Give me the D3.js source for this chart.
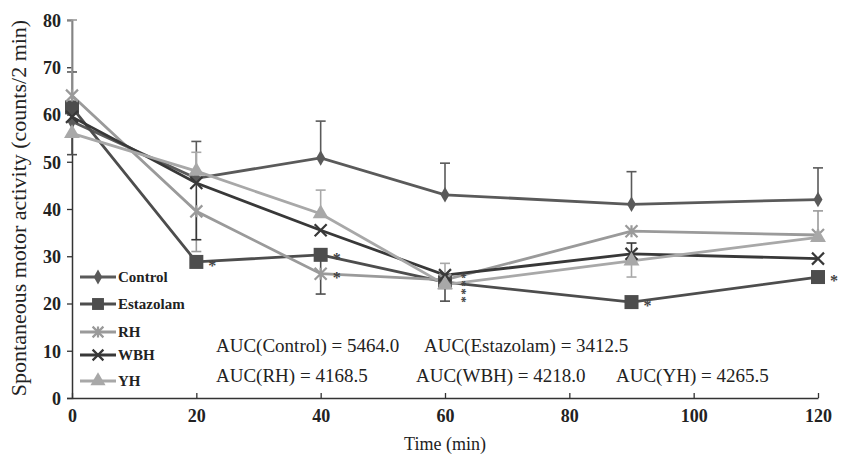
<!DOCTYPE html>
<html>
<head>
<meta charset="utf-8">
<script src="https://cdn.jsdelivr.net/npm/d3@7"></script>
<style>
  body { margin: 0; background: #fff; }
  svg { display: block; font-family: "Liberation Serif", "Times New Roman", serif; }
</style>
</head>
<body>
<svg id="chart" width="842" height="458"></svg>
<script>
// time points (min)
var times = [0, 20, 40, 60, 90, 120];

// mean activity per group
var control   = [58.5, 46.5, 50.8, 43.0, 41.0, 42.0];
var estazolam = [61.5, 28.8, 30.3, 24.5, 20.3, 25.6];
var rh        = [64.0, 39.5, 26.3, 25.0, 35.3, 34.5];
var wbh       = [59.5, 45.5, 35.5, 26.0, 30.5, 29.5];
var yh        = [56.0, 48.0, 39.0, 24.0, 29.0, 34.0];

// error bars (signed: + drawn upward, - drawn downward, 0 none)
var controlErr   = [10.5, 7.8, 7.8, 6.7, 6.9, 6.7];
var estazolamErr = [-10, 0, -8.3, -4, 0, 0];
var rhErr        = [16, -8.5, 0, 0, 0, 5.1];
var wbhErr       = [0, -12, 0, 0, 2.3, 0];
var yhErr        = [0, 4, 5, 4.5, -3.4, 0];

var seriesNames = ["Control", "Estazolam", "RH", "WBH", "YH"];

// significance marks: [series index, time index]
var sigMarks = [[1, 1], [1, 2], [2, 2], [1, 3], [2, 3], [3, 3], [4, 3], [1, 4], [1, 5]];

var aucLines = [
    ["AUC(Control) = 5464.0", "AUC(Estazolam) = 3412.5"],
    ["AUC(RH) = 4168.5", "AUC(WBH) = 4218.0", "AUC(YH) = 4265.5"]
];

var xTicks = [0, 20, 40, 60, 80, 100, 120];
var yTicks = [0, 10, 20, 30, 40, 50, 60, 70, 80];

var series = [
    {name: seriesNames[0], values: control,   err: controlErr,   color: "#5a5a5a", marker: "diamond"},
    {name: seriesNames[1], values: estazolam, err: estazolamErr, color: "#4d4d4d", marker: "square"},
    {name: seriesNames[2], values: rh,        err: rhErr,        color: "#9a9a9a", marker: "star"},
    {name: seriesNames[3], values: wbh,       err: wbhErr,       color: "#383838", marker: "cross"},
    {name: seriesNames[4], values: yh,        err: yhErr,        color: "#a8a8a8", marker: "triangle"}
];

var svg = d3.select("#chart");

var x = d3.scaleLinear().domain([0, 120]).range([72, 818]);
var y = d3.scaleLinear().domain([0, 80]).range([398, 20]);

// axes
var yAxis = svg.append("g")
    .attr("transform", "translate(72,0)")
    .call(d3.axisLeft(y).tickValues(yTicks).tickSize(5).tickPadding(6));
var xAxis = svg.append("g")
    .attr("transform", "translate(0,398)")
    .call(d3.axisBottom(x).tickValues(xTicks).tickSize(0).tickPadding(8));

[xAxis, yAxis].forEach(function (g) {
    g.select(".domain").attr("stroke", "#333").attr("stroke-width", 1.5);
    g.selectAll(".tick line").attr("stroke", "#333").attr("stroke-width", 1.3);
    g.selectAll("text")
        .attr("fill", "#222")
        .style("font-family", "'Liberation Serif', serif")
        .style("font-size", "18px")
        .style("font-weight", "bold");
});
// x ticks point up into plot
xAxis.selectAll(".tick").append("line")
    .attr("y1", 0).attr("y2", -5)
    .attr("stroke", "#333").attr("stroke-width", 1.3);
xAxis.selectAll(".tick text").attr("dy", "0.9em");
yAxis.selectAll(".tick text").attr("dy", "0.35em");

// axis titles
svg.append("text")
    .attr("transform", "translate(26,208) rotate(-90)")
    .attr("text-anchor", "middle")
    .attr("fill", "#222")
    .style("font-size", "22px")
    .text("Spontaneous motor activity (counts/2 min)");
svg.append("text")
    .attr("x", 445).attr("y", 450)
    .attr("text-anchor", "middle")
    .attr("fill", "#222")
    .style("font-size", "18px")
    .text("Time (min)");

// error bars
var errG = svg.append("g");
series.forEach(function (s) {
    s.err.forEach(function (e, i) {
        if (!e) return;
        var cx = x(times[i]), y0 = y(s.values[i]), y1 = y(s.values[i] + e);
        errG.append("line")
            .attr("x1", cx).attr("x2", cx).attr("y1", y0).attr("y2", y1)
            .attr("stroke", s.color).attr("stroke-width", 1.6);
        errG.append("line")
            .attr("x1", cx - 5).attr("x2", cx + 5).attr("y1", y1).attr("y2", y1)
            .attr("stroke", s.color).attr("stroke-width", 1.6);
    });
});

var line = d3.line()
    .x(function (d, i) { return x(times[i]); })
    .y(function (d) { return y(d); });

function drawMarker(g, type, cx, cy, color, size) {
    var k = size || 1;
    if (type === "diamond") {
        g.append("path").attr("d", d3.symbol(d3.symbolDiamond, 70 * k)())
            .attr("transform", "translate(" + cx + "," + cy + ")").attr("fill", color);
    } else if (type === "square") {
        g.append("rect").attr("x", cx - 7 * k).attr("y", cy - 7 * k)
            .attr("width", 14 * k).attr("height", 14 * k).attr("fill", color);
    } else if (type === "triangle") {
        g.append("path").attr("d", d3.symbol(d3.symbolTriangle, 110 * k)())
            .attr("transform", "translate(" + cx + "," + cy + ")").attr("fill", color);
    } else if (type === "star") {
        var r = 6 * k;
        g.append("path")
            .attr("d", "M" + (cx - r) + "," + (cy - r) + "L" + (cx + r) + "," + (cy + r) +
                "M" + (cx - r) + "," + (cy + r) + "L" + (cx + r) + "," + (cy - r) +
                "M" + cx + "," + (cy - r) + "L" + cx + "," + (cy + r))
            .attr("stroke", color).attr("stroke-width", 2.2).attr("fill", "none");
    } else if (type === "cross") {
        var r2 = 6 * k;
        g.append("path")
            .attr("d", "M" + (cx - r2) + "," + (cy - r2) + "L" + (cx + r2) + "," + (cy + r2) +
                "M" + (cx - r2) + "," + (cy + r2) + "L" + (cx + r2) + "," + (cy - r2))
            .attr("stroke", color).attr("stroke-width", 2.2).attr("fill", "none");
    }
}

// lines + markers
series.forEach(function (s) {
    svg.append("path")
        .datum(s.values)
        .attr("d", line)
        .attr("fill", "none")
        .attr("stroke", s.color)
        .attr("stroke-width", 2.8);
});
series.forEach(function (s) {
    var g = svg.append("g");
    s.values.forEach(function (v, i) {
        drawMarker(g, s.marker, x(times[i]), y(v), s.color);
    });
});

// significance asterisks; crowded time points get one stacked (rotated) label
var byTime = d3.group(sigMarks, function (m) { return m[1]; });
byTime.forEach(function (marks, ti) {
    if (marks.length > 2) {
        var top = y(d3.max(marks, function (m) { return series[m[0]].values[ti]; }));
        svg.append("text")
            .attr("transform", "translate(" + (x(times[ti]) + 13) + "," + (top - 3) + ") rotate(90)")
            .attr("fill", "#444")
            .style("font-size", "13px")
            .style("font-weight", "bold")
            .style("letter-spacing", "1.5px")
            .text(marks.map(function () { return "*"; }).join(""));
    } else {
        marks.forEach(function (m) {
            svg.append("text")
                .attr("x", x(times[ti]) + 16)
                .attr("y", y(series[m[0]].values[ti]) + 9)
                .attr("text-anchor", "middle")
                .attr("fill", "#444")
                .style("font-size", "16px")
                .style("font-weight", "bold")
                .text("*");
        });
    }
});

// legend
var legend = svg.append("g");
series.forEach(function (s, i) {
    var ly = [277, 304, 332, 355, 381][i];
    legend.append("line")
        .attr("x1", 80).attr("x2", 116).attr("y1", ly).attr("y2", ly)
        .attr("stroke", s.color).attr("stroke-width", 3);
    drawMarker(legend, s.marker, 98, ly, s.color, s.marker === "square" ? 0.85 : 0.9);
    legend.append("text")
        .attr("x", 118).attr("y", ly + 5)
        .attr("fill", "#222")
        .style("font-size", "15px")
        .style("font-weight", "bold")
        .text(s.name);
});

// AUC annotation
var aucX = [[216, 424], [216, 416, 616]];
aucLines.forEach(function (row, r) {
    row.forEach(function (t, j) {
        svg.append("text")
            .attr("x", aucX[r][j]).attr("y", 352 + r * 30)
            .attr("fill", "#222")
            .style("font-size", "19px")
            .text(t);
    });
});
</script>
</body>
</html>
